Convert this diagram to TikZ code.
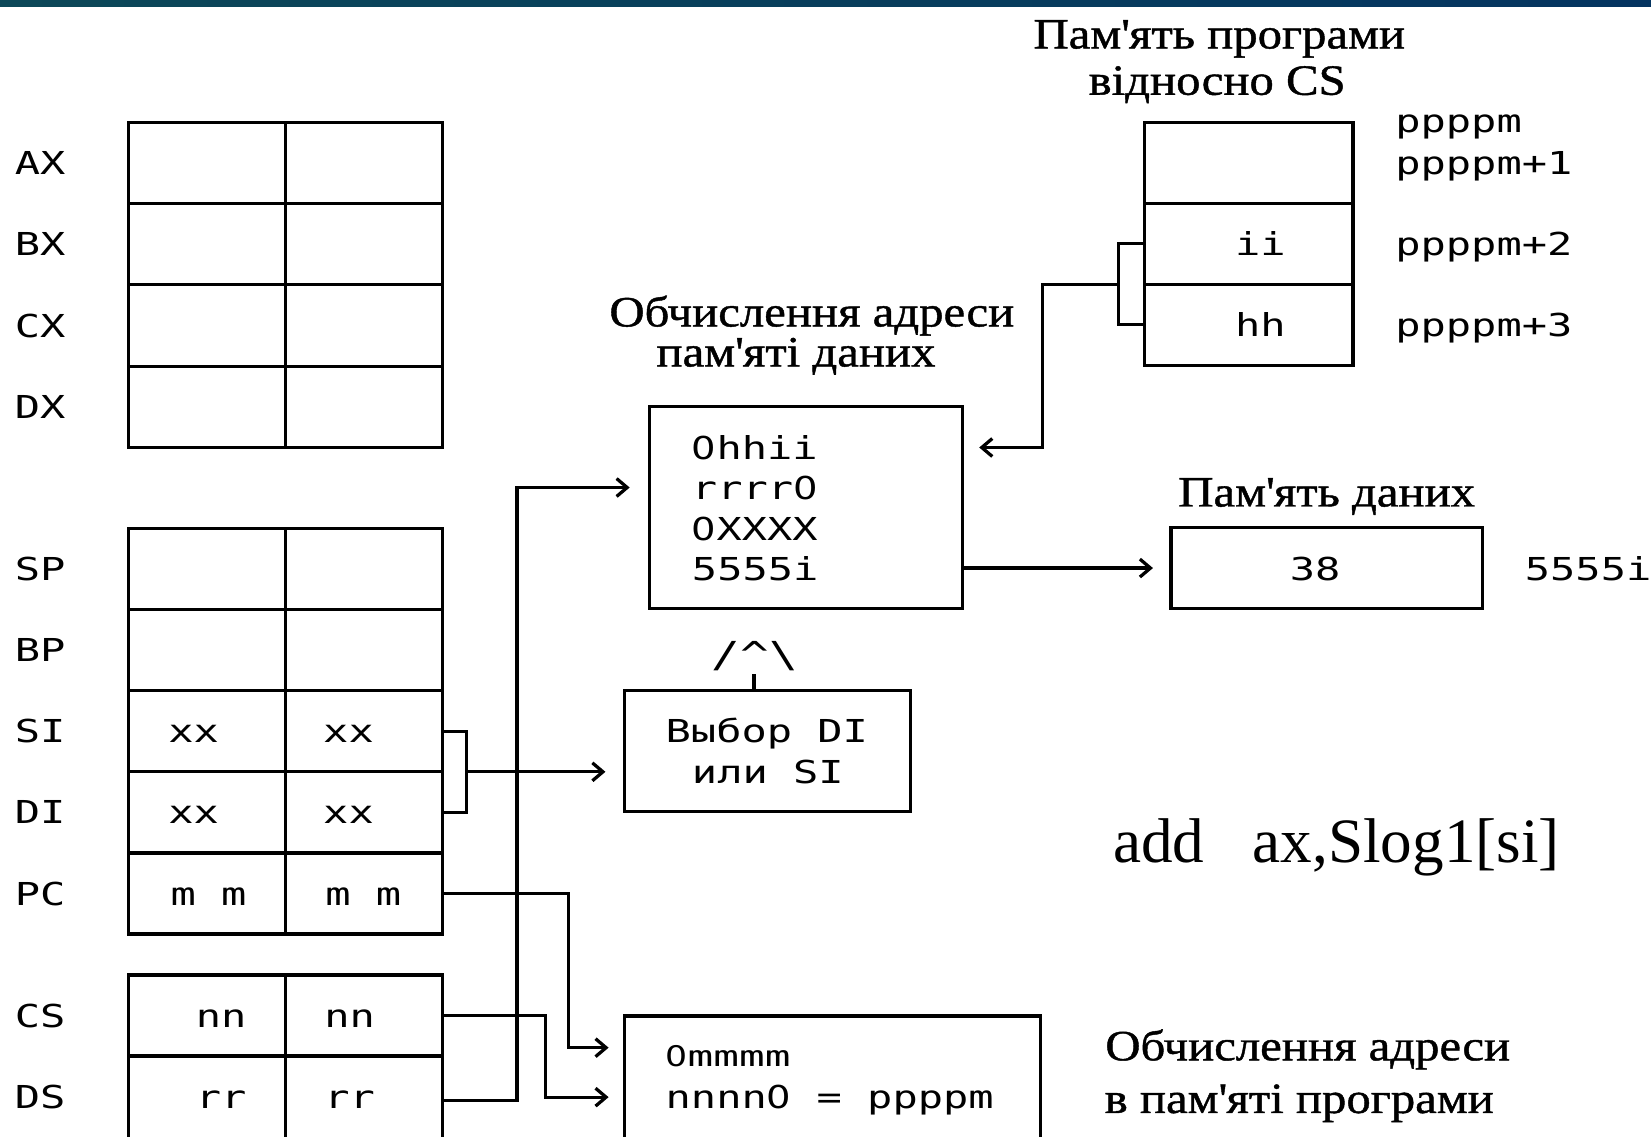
\documentclass[tikz,border=0pt]{standalone}
\usepackage{fontspec}
\setmainfont{Liberation Serif}
\newfontfamily\pixfam[FakeStretch=1.33]{DejaVu Sans Mono}
\newfontfamily\pixcfam[FakeStretch=1.5]{DejaVu Sans Mono}
\newfontfamily\zfam[FakeStretch=1.22]{DejaVu Sans}
\newfontfamily\serfam[FakeStretch=1.13,FakeBold=1]{Liberation Serif}
\usetikzlibrary{arrows.meta,calc}
\newcommand\pixf{\pixfam\fontsize{30}{36}\selectfont}
\newcommand\pixcf{\pixcfam\fontsize{27}{30}\selectfont}
\newcommand\serf{\serfam\fontsize{41}{48}\selectfont}
\newcommand\ap{\textquotesingle}
\newcommand\zr{{\zfam 0}}
\definecolor{barL}{RGB}{12,72,88}
\definecolor{barR}{RGB}{4,52,96}
\begin{document}
\begin{tikzpicture}[x=1pt,y=-1pt,
  ln/.style={line width=3.1pt},
  cell/.style={draw,ln,inner sep=0pt,outer sep=0pt,minimum width=149pt,minimum height=77pt,anchor=north west},
  boxn/.style={draw,ln,inner sep=0pt,outer sep=0pt,anchor=north west},
  mt/.style={font=\pixf,inner sep=0pt,anchor=base},
  mtw/.style={mt,anchor=base west},
  st/.style={font=\serf,inner sep=0pt,anchor=base},
  arr/.style={ln,-{Straight Barb[length=10pt,width=17pt]}}
]
\useasboundingbox (0,0) rectangle (1568,1079);
\clip (0,0) rectangle (1568,1079);
\fill[white] (0,0) rectangle (1568,1079);
\shade[left color=barL,right color=barR] (0,0) rectangle (1568,6);

% register table A
\foreach \n/\y in {AX/116,BX/193.25,CX/270.5,DX/347.75}{
  \node[cell,minimum height=77.25pt] (\n-l) at (122,\y) {};
  \node[cell,minimum height=77.25pt] (\n-r) at (271,\y) {};
  \node[mtw] (\n-lab) at (14,\y+49.6) {\n};
}
% register table B
\foreach \n/\y in {SP/502,BP/579,SI/656,DI/733,PC/810}{
  \node[cell] (\n-l) at (122,\y) {};
  \node[cell] (\n-r) at (271,\y) {};
  \node[mtw] (\n-lab) at (14,\y+49.5) {\n};
}
% segment registers
\node[cell] (CS-l) at (122,926) {};
\node[cell] (CS-r) at (271,926) {};
\node[cell,minimum height=84pt] (DS-l) at (122,1003) {};
\node[cell,minimum height=84pt] (DS-r) at (271,1003) {};
\node[mtw] (CS-lab) at (14,975.5) {CS};
\node[mtw] (DS-lab) at (14,1053) {DS};

% cell contents
\node[mt] (si1) at (184,705.5) {xx};
\node[mt] (si2) at (331,705.5) {xx};
\node[mt] (di1) at (184,782.5) {xx};
\node[mt] (di2) at (331,782.5) {xx};
\node[mt] (pc1) at (198,859.5) {m m};
\node[mt] (pc2) at (345,859.5) {m m};
\node[mt] (cs1) at (210,975.5) {nn};
\node[mt] (cs2) at (332,975.5) {nn};
\node[mt] (ds1) at (210,1053) {rr};
\node[mt] (ds2) at (332,1053) {rr};

% address calculation box
\node[boxn,minimum width=297pt,minimum height=192pt] (calc) at (617,386) {};
\node[mtw] (c1) at (657,436) {\zr hhii};
\node[mtw] (c2) at (657,474) {rrrr\zr};
\node[mtw] (c3) at (657,513) {\zr XXXX};
\node[mtw] (c4) at (657,551) {5555i};
\node[st] (t3a) at (771,310) {Обчислення адреси};
\node[st] (t3b) at (756,348) {пам\ap яті даних};

% selector box
\node[boxn,minimum width=272pt,minimum height=115pt] (sel) at (593,656) {};
\node[mtw] (s1) at (632,705) {Выбор DI};
\node[mtw] (s2) at (657,744) {или SI};

% program address box
\node[boxn,minimum width=395pt,minimum height=130pt] (bot) at (593,965) {};
\node[mtw,font=\pixcf] (b1) at (632,1013) {{\zfam\fontsize{27}{30}\selectfont 0}mmmm};
\node[mtw] (b2) at (632,1053) {nnnn\zr{} = ppppm};
\node[st] (t5a) at (1242,1007) {Обчислення адреси};
\node[st] (t5b) at (1234,1057) {в пам\ap яті програми};

% program memory
\node[st] (t1a) at (1158,46) {Пам\ap ять програми};
\node[st] (t1b) at (1156,90) {відносно CS};
\node[boxn,minimum width=198pt,minimum height=77pt] (m1) at (1087,116) {};
\node[boxn,minimum width=198pt,minimum height=77pt] (m2) at (1087,193) {};
\node[boxn,minimum width=198pt,minimum height=77pt] (m3) at (1087,270) {};
\node[mt] (ii) at (1197,243) {ii};
\node[mt] (hh) at (1197,320) {hh};
\node[mtw] (p0) at (1325,126) {ppppm};
\node[mtw] (p1) at (1325,166) {ppppm+1};
\node[mtw] (p2) at (1325,243) {ppppm+2};
\node[mtw] (p3) at (1325,320) {ppppm+3};

% data memory
\node[st] (t4) at (1260,481) {Пам\ap ять даних};
\node[boxn,minimum width=296pt,minimum height=77pt] (data) at (1112,501) {};
\node[mt] (v38) at (1249,551) {38};
\node[mtw] (dadr) at (1448,551) {5555i};

% instruction
\node[inner sep=0pt,anchor=base west,font=\fontsize{60}{66}\selectfont] (instr) at (1057,819) {add\hspace{46pt}ax,Slog1[si]};

% connectors
\coordinate (br1) at ($(SI-r.east)!0.5!(DI-r.east)+(23,0)$);
\draw[ln] (SI-r.east) -- ++(23,0) |- (DI-r.east);
\draw[arr,shorten >=18pt] (br1) -- (br1 -| sel.west);

\coordinate (dsup) at (491,463);
\draw[arr,shorten >=19pt] (DS-r.east) -| (dsup) -- (dsup -| calc.west);

\coordinate (pcb) at (540,995);
\draw[arr,shorten >=15pt] (PC-r.east) -| (pcb) -- (pcb -| bot.west);

\coordinate (csb) at (518,1042);
\draw[arr,shorten >=15pt] (CS-r.east) -| (csb) -- (csb -| bot.west);

\draw[ln] (m2.west) -- ++(-25,0) |- (m3.west);
\coordinate (br2) at (1062,270);
\coordinate (cturn) at (990,270);
\coordinate (cin) at (990,425);
\draw[arr,shorten >=16pt] (br2) -- (cturn) |- (cin -| calc.east);

\draw[arr,shorten >=17pt] (calc.east |- data.west) -- (data.west);

\coordinate (stem) at (716,640);
\draw[ln] (stem |- sel.north) -- (stem);
\node[mt,font=\pixfam\fontsize{34}{36}\selectfont] (hat) at (717,634) {/\textasciicircum\textbackslash};
\end{tikzpicture}
\end{document}
